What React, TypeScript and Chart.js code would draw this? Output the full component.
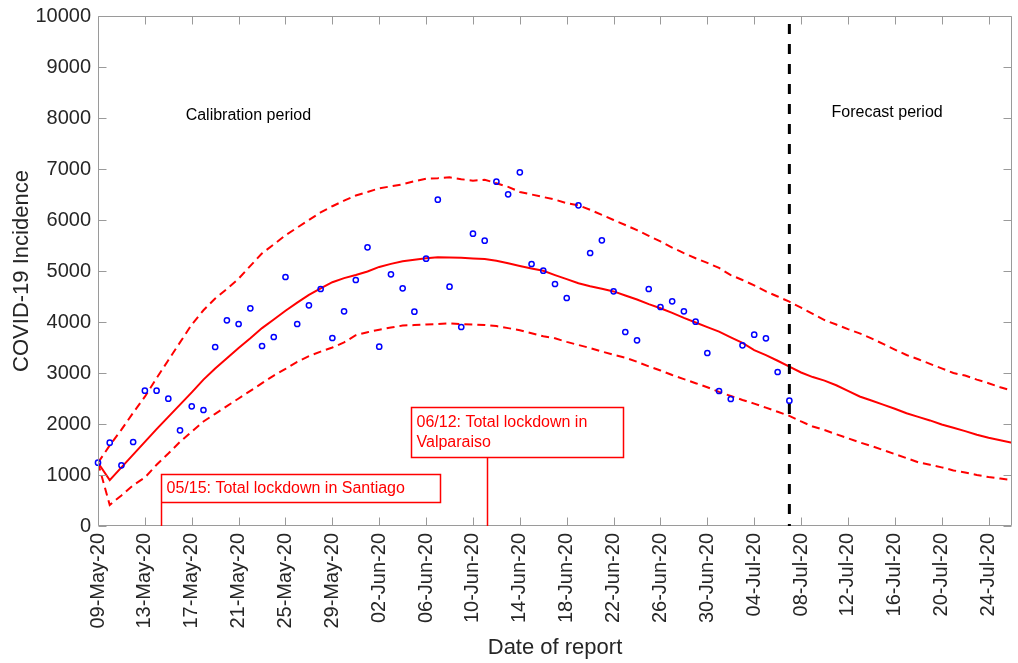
import React, { useEffect, useRef } from "react";
import { Chart, registerables } from "chart.js";

Chart.register(...registerables);

// Tick labels (every 4 days starting 09-May-20, day index 0)
const dateLabels = [
  "09-May-20", "13-May-20", "17-May-20", "21-May-20", "25-May-20", "29-May-20",
  "02-Jun-20", "06-Jun-20", "10-Jun-20", "14-Jun-20", "18-Jun-20", "22-Jun-20",
  "26-Jun-20", "30-Jun-20", "04-Jul-20", "08-Jul-20", "12-Jul-20", "16-Jul-20",
  "20-Jul-20", "24-Jul-20",
];
const tickStepDays = 4;
const yTicks = [0, 1000, 2000, 3000, 4000, 5000, 6000, 7000, 8000, 9000, 10000];

// Observed daily incidence (days 0..59)
const observed = [
  1241, 1634, 1190, 1647, 2653, 2653, 2497, 1876, 2346, 2275,
  3510, 4033, 3961, 4268, 3529, 3706, 4882, 3961, 4327, 4647,
  3686, 4209, 4824, 5464, 3516, 4935, 4660, 4203, 5242, 6399,
  4693, 3902, 5732, 5595, 6752, 6503, 6935, 5137, 5007, 4745,
  4471, 6288, 5353, 5601, 4601, 3804, 3641, 4647, 4294, 4405,
  4209, 4006, 3392, 2647, 2490, 3542, 3752, 3680, 3020, 2458,
];

// Model fit / forecast (days 0..78)
const fitMean = [
  1241, 900, 1150, 1400, 1650, 1900, 2140, 2380, 2620, 2870,
  3090, 3290, 3490, 3680, 3880, 4050, 4220, 4380, 4530, 4660,
  4780, 4860, 4920, 4990, 5080, 5140, 5190, 5220, 5250, 5270,
  5265, 5260, 5245, 5235, 5200, 5150, 5100, 5050, 5005, 4920,
  4840, 4760, 4700, 4650, 4600, 4520, 4440, 4350, 4270, 4180,
  4080, 3990, 3900, 3810, 3700, 3590, 3450, 3350, 3240, 3124,
  3010, 2920, 2850, 2760, 2650, 2540, 2460, 2380, 2300, 2210,
  2140, 2070, 1990, 1925, 1860, 1790, 1730, 1680, 1634,
];
const fitUpper = [
  1241, 1580, 1890, 2220, 2536, 2900, 3250, 3600, 3950, 4230,
  4460, 4650, 4850, 5100, 5346, 5520, 5700, 5850, 6000, 6150,
  6270, 6380, 6480, 6550, 6621, 6660, 6700, 6760, 6810, 6820,
  6837, 6800, 6771, 6790, 6720, 6650, 6550, 6500, 6450, 6400,
  6330, 6288, 6200, 6100, 6000, 5902, 5800, 5690, 5580, 5460,
  5350, 5250, 5160, 5060, 4920, 4823, 4720, 4600, 4500, 4398,
  4280, 4160, 4039, 3950, 3860, 3778, 3680, 3570, 3460, 3353,
  3270, 3180, 3090, 3000, 2950, 2870, 2800, 2720, 2653,
];
const fitLower = [
  1241, 412, 600, 800, 950, 1200, 1420, 1650, 1850, 2050,
  2200, 2350, 2500, 2650, 2800, 2950, 3080, 3220, 3330, 3420,
  3500, 3600, 3740, 3800, 3850, 3890, 3930, 3940, 3950, 3960,
  3974, 3960, 3950, 3940, 3920, 3880, 3840, 3780, 3720, 3680,
  3610, 3549, 3490, 3420, 3360, 3300, 3220, 3130, 3050, 2960,
  2880, 2800, 2720, 2630, 2550, 2471, 2400, 2320, 2240, 2160,
  2050, 1950, 1882, 1800, 1720, 1640, 1570, 1490, 1410, 1330,
  1250, 1200, 1150, 1090, 1050, 1000, 960, 930, 902,
];

const forecastStartDay = 59;
const xMaxDay = 78;

const annotations = [
  { lines: ["05/15: Total lockdown in Santiago"], left: 5.41, right: 29.2, top: 1020, bottom: 465, stemDay: 5.41 },
  { lines: ["06/12: Total lockdown in", "Valparaiso"], left: 26.68, right: 44.8, top: 2339, bottom: 1347, stemDay: 33.2 },
];
const periodLabels = [
  { text: "Calibration period", day: 7.48, value: 8039 },
  { text: "Forecast period", day: 62.6, value: 8098 },
];

const FONT = "'Liberation Sans', Arial, Helvetica, sans-serif";
const AXIS_GREY = "#9a9a9a";
const TEXT_DARK = "#262626";

const overlayPlugin = {
  id: "overlay",
  afterDatasetsDraw(chart: any) {
    const { ctx, chartArea: ca, scales } = chart;
    const xs = scales.x;
    const ys = scales.y;
    ctx.save();

    // Axes box
    const L = Math.round(ca.left) + 0.5;
    const R = Math.round(ca.right) - 0.5;
    const T = Math.round(ca.top) + 0.5;
    const B = Math.round(ca.bottom) - 0.5;
    ctx.strokeStyle = AXIS_GREY;
    ctx.lineWidth = 1;
    ctx.setLineDash([]);
    ctx.beginPath();
    ctx.rect(L, T, R - L, B - T);
    const tl = 8;
    xs.ticks.forEach((t: any) => {
      const px = Math.round(xs.getPixelForValue(t.value)) + 0.5;
      ctx.moveTo(px, B);
      ctx.lineTo(px, B - tl);
      ctx.moveTo(px, T);
      ctx.lineTo(px, T + tl);
    });
    ys.ticks.forEach((t: any) => {
      const py = Math.round(ys.getPixelForValue(t.value)) + 0.5;
      ctx.moveTo(L, py);
      ctx.lineTo(L + tl, py);
      ctx.moveTo(R, py);
      ctx.lineTo(R - tl, py);
    });
    ctx.stroke();

    // Forecast boundary
    const fx = xs.getPixelForValue(forecastStartDay);
    ctx.strokeStyle = "#000000";
    ctx.lineWidth = 3;
    ctx.setLineDash([10, 10]);
    ctx.beginPath();
    ctx.moveTo(fx, ca.top + 8);
    ctx.lineTo(fx, ca.bottom);
    ctx.stroke();
    ctx.setLineDash([]);

    // Annotation boxes
    ctx.font = `16px ${FONT}`;
    ctx.textBaseline = "middle";
    ctx.textAlign = "left";
    annotations.forEach((a) => {
      const x0 = Math.round(xs.getPixelForValue(a.left)) + 0.5;
      const x1 = Math.round(xs.getPixelForValue(a.right)) + 0.5;
      const y0 = Math.round(ys.getPixelForValue(a.top)) + 0.5;
      const y1 = Math.round(ys.getPixelForValue(a.bottom)) + 0.5;
      const sx = Math.round(xs.getPixelForValue(a.stemDay)) + 0.5;
      ctx.strokeStyle = "#ff0000";
      ctx.lineWidth = 1.5;
      ctx.beginPath();
      ctx.rect(x0, y0, x1 - x0, y1 - y0);
      ctx.moveTo(sx, y1);
      ctx.lineTo(sx, ca.bottom);
      ctx.stroke();
      ctx.fillStyle = "#ff0000";
      const lh = 19.5;
      const cy = (y0 + y1) / 2 - ((a.lines.length - 1) * lh) / 2;
      a.lines.forEach((ln, i) => {
        ctx.fillText(ln, x0 + 5, cy + i * lh);
      });
    });

    // Period labels
    ctx.fillStyle = "#000000";
    periodLabels.forEach((p) => {
      ctx.fillText(p.text, xs.getPixelForValue(p.day), ys.getPixelForValue(p.value));
    });

    ctx.restore();
  },
};

export default function App() {
  const canvasRef = useRef<HTMLCanvasElement | null>(null);

  useEffect(() => {
    document.body.style.margin = "0";
    const canvas = canvasRef.current;
    if (!canvas) return;

    const toXY = (arr: number[]) => arr.map((v, i) => ({ x: i, y: v }));

    const chart = new Chart(canvas, {
      type: "line",
      data: {
        datasets: [
          {
            label: "Observed",
            data: toXY(observed),
            showLine: false,
            pointRadius: 2.6,
            pointBorderWidth: 1.5,
            pointBorderColor: "#0000ff",
            pointBackgroundColor: "rgba(0,0,0,0)",
            clip: false,
            order: 0,
          },
          {
            label: "Fit",
            data: toXY(fitMean),
            borderColor: "#ff0000",
            borderWidth: 2,
            pointRadius: 0,
            tension: 0,
            order: 1,
          },
          {
            label: "Upper",
            data: toXY(fitUpper),
            borderColor: "#ff0000",
            borderWidth: 2,
            borderDash: [8, 5],
            pointRadius: 0,
            tension: 0,
            order: 1,
          },
          {
            label: "Lower",
            data: toXY(fitLower),
            borderColor: "#ff0000",
            borderWidth: 2,
            borderDash: [8, 5],
            pointRadius: 0,
            tension: 0,
            order: 1,
          },
        ],
      },
      options: {
        animation: false,
        responsive: false,
        devicePixelRatio: 1,
        layout: { padding: { top: 16, right: 6, left: 0, bottom: 0 } },
        plugins: {
          legend: { display: false },
          tooltip: { enabled: false },
        },
        scales: {
          x: {
            type: "linear",
            min: 0,
            max: xMaxDay,
            grid: { display: false, drawTicks: false },
            border: { display: false },
            afterBuildTicks: (s: any) => {
              s.ticks = dateLabels.map((_, i) => ({ value: i * tickStepDays }));
            },
            afterFit: (s: any) => {
              s.height = 137;
              s.paddingLeft = 0;
              s.paddingRight = 0;
            },
            ticks: {
              minRotation: 90,
              maxRotation: 90,
              autoSkip: false,
              padding: 7,
              color: TEXT_DARK,
              font: { family: FONT, size: 20 },
              callback: (v: any) => {
                const idx = Math.round(Number(v) / tickStepDays);
                return dateLabels[idx] ?? "";
              },
            },
            title: {
              display: true,
              text: "Date of report",
              color: TEXT_DARK,
              font: { family: FONT, size: 22 },
              padding: { top: 0, bottom: 2 },
            },
          },
          y: {
            type: "linear",
            min: 0,
            max: 10000,
            grid: { display: false, drawTicks: false },
            border: { display: false },
            afterBuildTicks: (s: any) => {
              s.ticks = yTicks.map((v) => ({ value: v }));
            },
            afterFit: (s: any) => {
              s.width = 98;
              s.paddingTop = 0;
              s.paddingBottom = 0;
            },
            ticks: {
              padding: 7,
              color: TEXT_DARK,
              font: { family: FONT, size: 20 },
              callback: (v: any) => String(v),
            },
            title: {
              display: true,
              text: "COVID-19 Incidence",
              color: TEXT_DARK,
              font: { family: FONT, size: 22 },
              padding: { top: 9, bottom: 0 },
            },
          },
        },
      },
      plugins: [overlayPlugin],
    });

    return () => {
      chart.destroy();
    };
  }, []);

  return (
    <div style={{ width: 1018, height: 663, position: "relative" }}>
      <canvas ref={canvasRef} width={1018} height={663} style={{ display: "block" }} />
    </div>
  );
}
